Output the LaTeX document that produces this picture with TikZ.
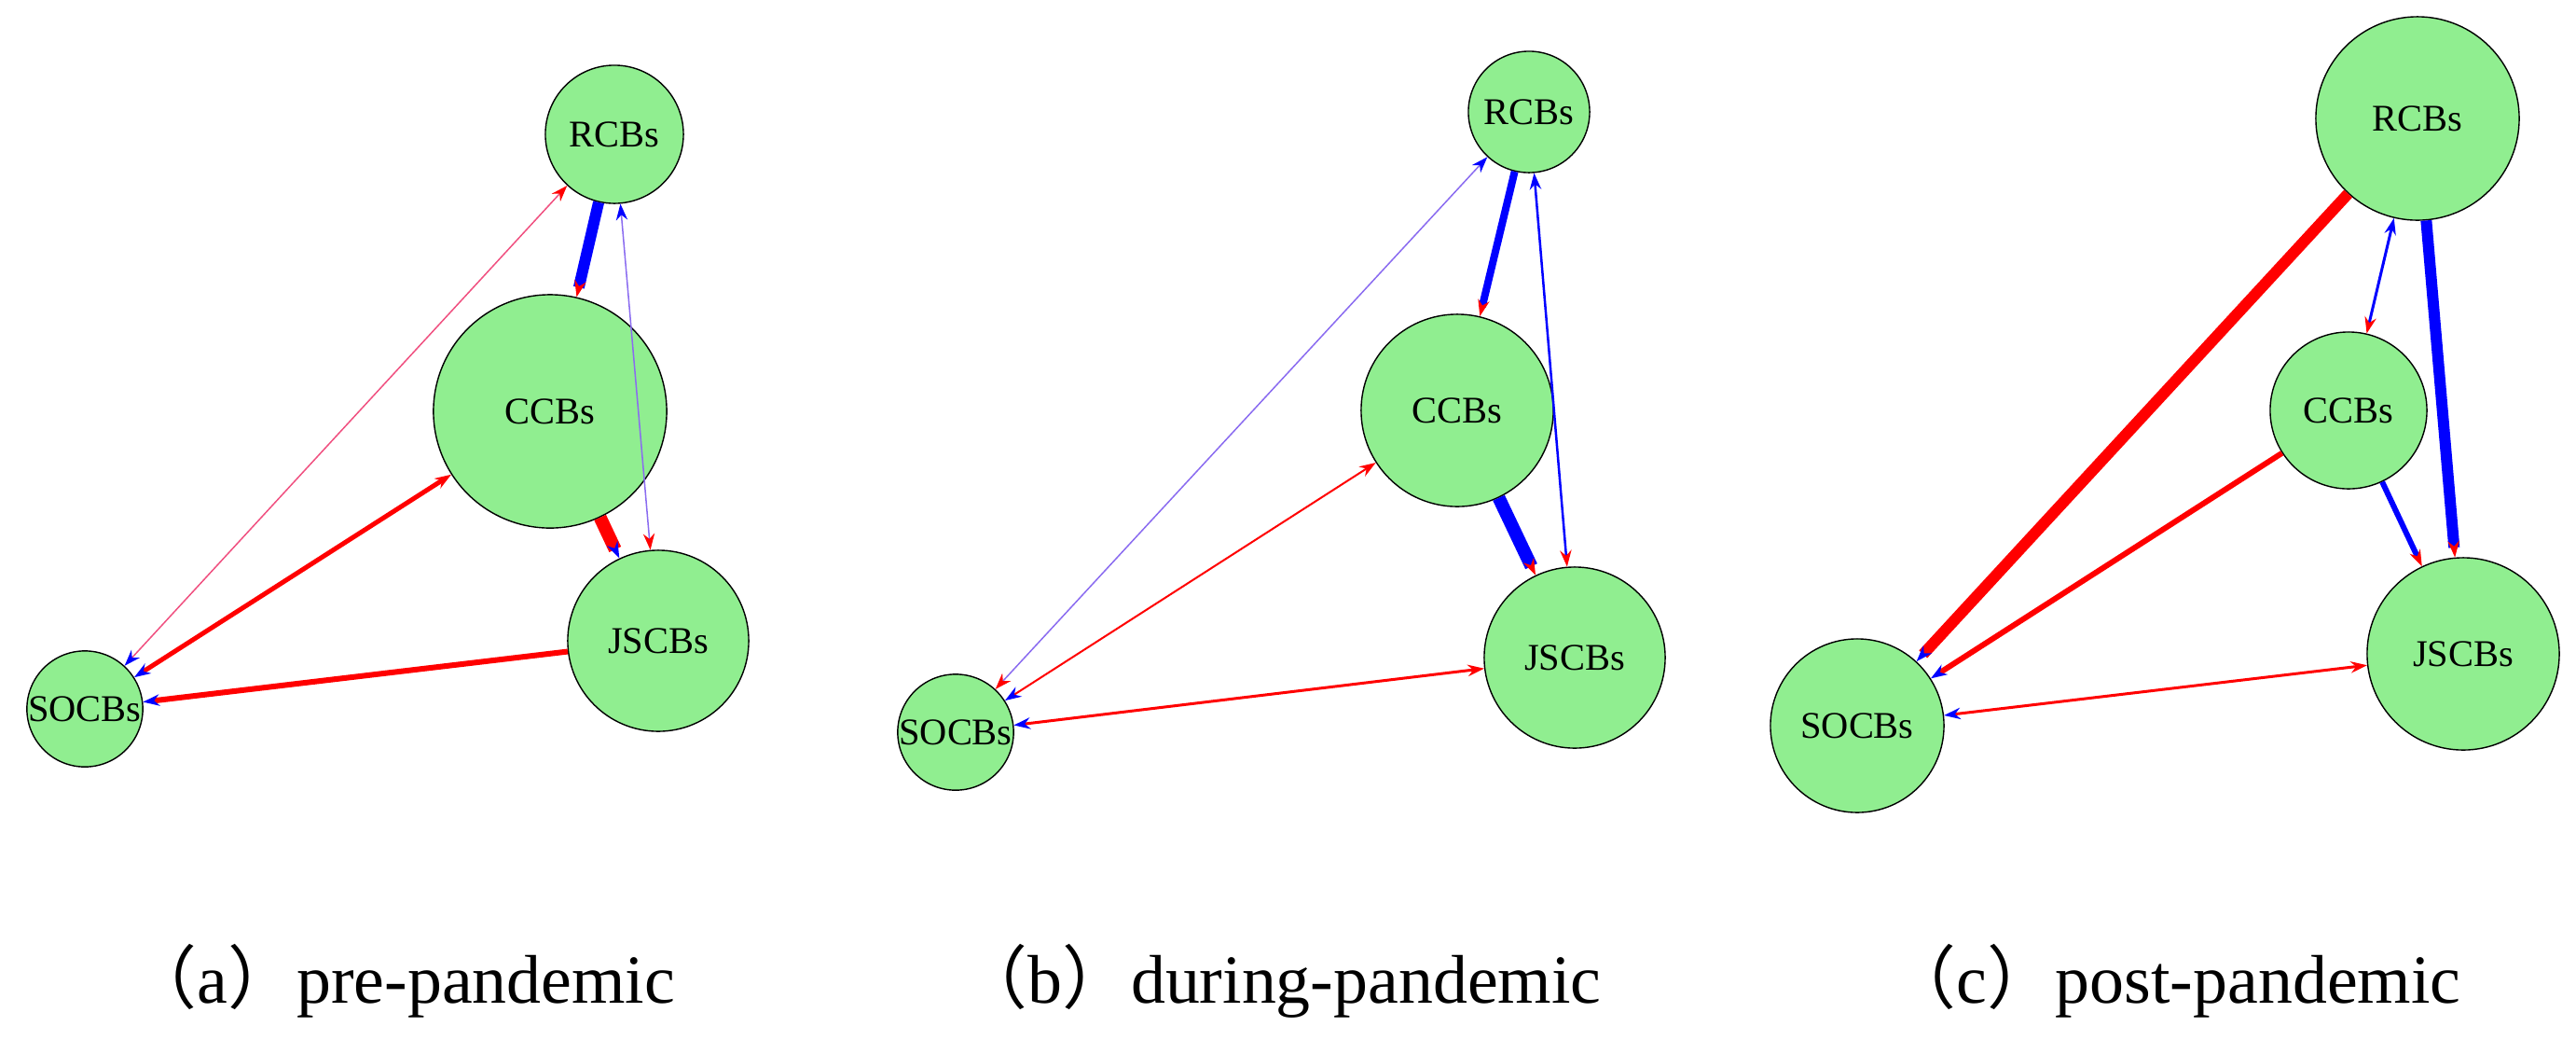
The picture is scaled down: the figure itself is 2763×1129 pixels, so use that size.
\documentclass[tikz,border=0pt]{standalone}
\usepackage{fontspec}
\setmainfont{Liberation Serif}
\newfontfamily\cjk{Noto Sans CJK SC}
\usetikzlibrary{arrows.meta}
\definecolor{ngreen}{HTML}{90EE90}
\definecolor{eblue}{HTML}{0000FF}
\definecolor{ered}{HTML}{FF0000}
\definecolor{epurple}{HTML}{8A6BF0}
\definecolor{epink}{HTML}{F05080}
\tikzset{
  bank/.style={circle,draw=black,line width=0.4pt,fill=ngreen,inner sep=0pt,minimum size=#1*0.02cm,font=\fontsize{11.5}{12}\selectfont},
  tipb/.tip={Stealth[length=5pt,width=3.5pt,color=eblue]},
  tipr/.tip={Stealth[length=5pt,width=3.5pt,color=ered]},
  w/.style={line width=#1*0.2845pt},
  subcaption/.style={font=\fontsize{21}{24}\selectfont,anchor=base}
}
\begin{document}
\begin{tikzpicture}[x=0.01cm,y=-0.01cm]
\useasboundingbox (0,0) rectangle (2763,1129);
% panel a
\node[bank=74] (aR) at (659,144) {RCBs};
\node[bank=125] (aC) at (590,441) {CCBs};
\node[bank=97] (aJ) at (706,687) {JSCBs};
\node[bank=62] (aS) at (91,760) {SOCBs};
\draw[eblue,w=12,-{tipr}] (aR) -- (aC);
\draw[epurple,w=1.5,{tipb}-{tipr}] (aR) -- (aJ);
\draw[epink,w=1.5,{tipr}-{tipb}] (aR) -- (aS);
\draw[ered,w=14,-{tipb}] (aC) -- (aJ);
\draw[ered,w=5,{tipr}-{tipb}] (aC) -- (aS);
\draw[ered,w=6,-{tipb}] (aJ) -- (aS);
% panel b
\node[bank=65] (bR) at (1640,120) {RCBs};
\node[bank=103] (bC) at (1563,440) {CCBs};
\node[bank=97] (bJ) at (1689,705) {JSCBs};
\node[bank=53] (bS) at (1025,785) {SOCBs};
\draw[eblue,w=8,-{tipr}] (bR) -- (bC);
\draw[eblue,w=2.5,{tipb}-{tipr}] (bR) -- (bJ);
\draw[epurple,w=1.5,{tipb}-{tipr}] (bR) -- (bS);
\draw[eblue,w=14,-{tipr}] (bC) -- (bJ);
\draw[ered,w=2,{tipr}-{tipb}] (bC) -- (bS);
\draw[ered,w=3,{tipr}-{tipb}] (bJ) -- (bS);
% panel c
\node[bank=109] (cR) at (2593,127) {RCBs};
\node[bank=84] (cC) at (2519,440) {CCBs};
\node[bank=103] (cJ) at (2642,701) {JSCBs};
\node[bank=93] (cS) at (1992,778) {SOCBs};
\draw[eblue,w=3,{tipb}-{tipr}] (cR) -- (cC);
\draw[eblue,w=12,-{tipr}] (cR) -- (cJ);
\draw[ered,w=12,-{tipb}] (cR) -- (cS);
\draw[eblue,w=6,-{tipr}] (cC) -- (cJ);
\draw[ered,w=6,-{tipb}] (cC) -- (cS);
\draw[ered,w=3,{tipr}-{tipb}] (cJ) -- (cS);
% captions
\node[subcaption] (capa) at (431,1075) {{\cjk （}a{\cjk ）}pre-pandemic};
\node[subcaption] (capb) at (1373,1075) {{\cjk （}b{\cjk ）}during-pandemic};
\node[subcaption] (capc) at (2332,1075) {{\cjk （}c{\cjk ）}post-pandemic};
\end{tikzpicture}
\end{document}
